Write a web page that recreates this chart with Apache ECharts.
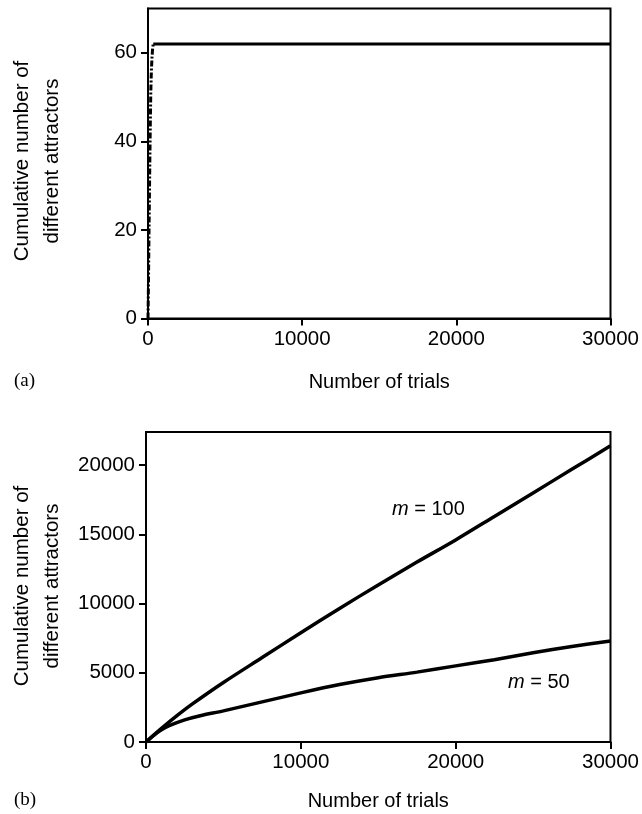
<!DOCTYPE html>
<html><head><meta charset="utf-8">
<script src="https://cdn.jsdelivr.net/npm/echarts@6/dist/echarts.min.js"></script>
<style>html,body{margin:0;padding:0;background:#fff}#c{width:642px;height:814px}</style>
</head><body><div id="c"></div>
<script>
// Panel (a): cumulative number of different attractors vs trials
const trialsA = [0, 30, 60, 90, 120, 150, 180, 220, 260, 300, 340];
const attractorsA = [0, 8, 18, 27, 36, 44, 51, 56, 59, 61, 62];
const plateauTrials = [340, 30000];
const plateauValue = [62, 62];

// Panel (b): m = 100 and m = 50
const trials100 = [0, 1000, 2000, 3000, 5000, 7500, 10000, 12500, 15000, 17500, 20000, 22500, 25000, 27500, 30000];
const values100 = [0, 980, 1900, 2750, 4300, 6100, 7900, 9650, 11350, 13000, 14600, 16300, 18000, 19700, 21400];
const trials50 = [0, 500, 1000, 1500, 2500, 3500, 5000, 7500, 10000, 12500, 15000, 17500, 20000, 22500, 25000, 27500, 30000];
const values50 = [0, 480, 880, 1180, 1600, 1900, 2250, 2900, 3550, 4150, 4650, 5050, 5500, 5950, 6450, 6900, 7300];

const xTicks = [0, 10000, 20000, 30000];
const yTicksA = [0, 20, 40, 60];
const yTicksB = [0, 5000, 10000, 15000, 20000];

const zip = (a, b) => a.map((v, i) => [v, b[i]]);
const font = 'Liberation Sans, Arial, sans-serif';
const plain = v => String(v);

function xAxisCfg(gi) {
  return {
    type: 'value', gridIndex: gi, min: 0, max: 30000,
    name: 'Number of trials', nameLocation: 'middle', nameGap: gi === 0 ? 54 : 49,
    nameTextStyle: {fontFamily: font, fontSize: 20, color: '#000'},
    axisLine: {show: true, onZero: false, lineStyle: {color: '#000', width: 2}},
    axisTick: {show: true, inside: false, length: 7, lineStyle: {color: '#000', width: 2}, customValues: xTicks},
    axisLabel: {fontFamily: font, fontSize: 20.5, color: '#000', margin: 10, customValues: xTicks, formatter: plain},
    splitLine: {show: false}
  };
}
function yAxisCfg(gi, max, ticks) {
  return {
    type: 'value', gridIndex: gi, min: 0, max: max,
    axisLine: {show: true, onZero: false, lineStyle: {color: '#000', width: 2}},
    axisTick: {show: true, inside: false, length: 7, lineStyle: {color: '#000', width: 2}, customValues: ticks},
    axisLabel: {fontFamily: font, fontSize: 20.5, color: '#000', margin: 11, customValues: ticks, formatter: plain},
    splitLine: {show: false}
  };
}

const chart = echarts.init(document.getElementById('c'), null, {renderer: 'canvas'});
chart.setOption({
  animation: false,
  backgroundColor: '#fff',
  grid: [
    {left: 148, top: 8.5, width: 464, height: 310, show: true, borderColor: '#000', borderWidth: 2, backgroundColor: 'transparent'},
    {left: 146, top: 432, width: 466, height: 310, show: true, borderColor: '#000', borderWidth: 2, backgroundColor: 'transparent'}
  ],
  xAxis: [xAxisCfg(0), xAxisCfg(1)],
  yAxis: [yAxisCfg(0, 70, yTicksA), yAxisCfg(1, 22400, yTicksB)],
  series: [
    {type: 'line', xAxisIndex: 0, yAxisIndex: 0, data: zip(trialsA, attractorsA), showSymbol: false,
     lineStyle: {color: '#000', width: 3, type: [6, 2, 2, 2]}},
    {type: 'line', xAxisIndex: 0, yAxisIndex: 0, data: zip(plateauTrials, plateauValue), showSymbol: false,
     lineStyle: {color: '#000', width: 3}},
    {type: 'line', xAxisIndex: 1, yAxisIndex: 1, data: zip(trials100, values100), showSymbol: false, smooth: 0.3,
     lineStyle: {color: '#000', width: 3.5}},
    {type: 'line', xAxisIndex: 1, yAxisIndex: 1, data: zip(trials50, values50), showSymbol: false, smooth: 0.3,
     lineStyle: {color: '#000', width: 3.5}}
  ],
  graphic: [
    {type: 'text', x: 37, y: 161, rotation: Math.PI / 2,
     style: {text: 'Cumulative number of\ndifferent attractors', fontFamily: font, fontSize: 20.5, fill: '#000', align: 'center', verticalAlign: 'middle', lineHeight: 30}},
    {type: 'text', x: 37, y: 586, rotation: Math.PI / 2,
     style: {text: 'Cumulative number of\ndifferent attractors', fontFamily: font, fontSize: 20.5, fill: '#000', align: 'center', verticalAlign: 'middle', lineHeight: 30}},
    {type: 'text', x: 14, y: 381,
     style: {text: '(a)', fontFamily: 'Liberation Serif, Times New Roman, serif', fontSize: 19, fill: '#000', align: 'left', verticalAlign: 'middle'}},
    {type: 'text', x: 14, y: 800,
     style: {text: '(b)', fontFamily: 'Liberation Serif, Times New Roman, serif', fontSize: 19, fill: '#000', align: 'left', verticalAlign: 'middle'}},
    {type: 'text', x: 392, y: 509,
     style: {text: '{i|m} = 100', fontFamily: font, fontSize: 20, fill: '#000', align: 'left', verticalAlign: 'middle',
       rich: {i: {fontStyle: 'italic', fontFamily: font, fontSize: 20, fill: '#000'}}}},
    {type: 'text', x: 508, y: 682,
     style: {text: '{i|m} = 50', fontFamily: font, fontSize: 20, fill: '#000', align: 'left', verticalAlign: 'middle',
       rich: {i: {fontStyle: 'italic', fontFamily: font, fontSize: 20, fill: '#000'}}}}
  ]
});
</script></body></html>
